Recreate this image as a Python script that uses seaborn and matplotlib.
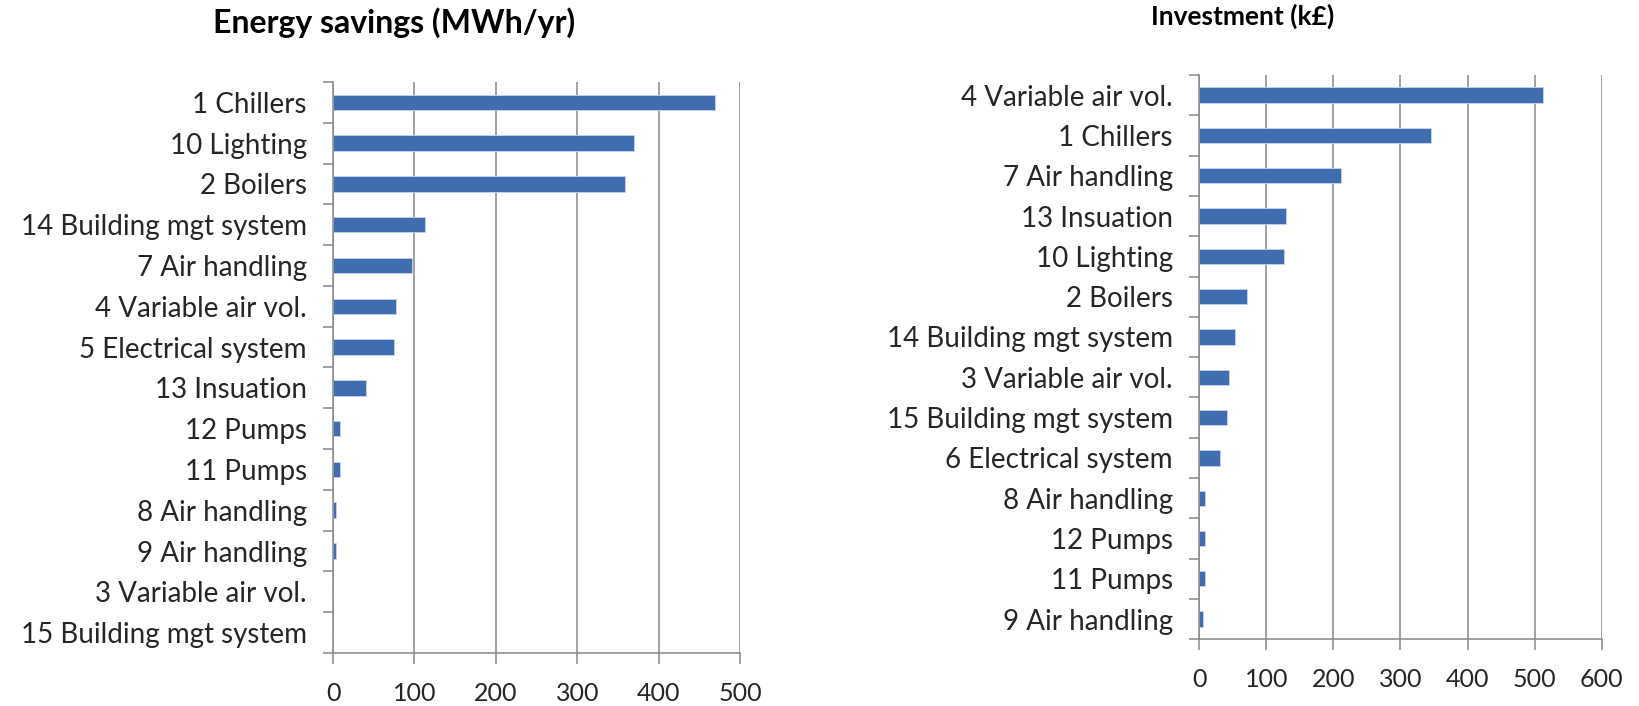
import matplotlib
matplotlib.use("Agg")
import matplotlib.pyplot as plt
import seaborn as sns
import pandas as pd
import numpy as np

# energy savings panel (top to bottom)
savings_labels = ["1 Chillers", "10 Lighting", "2 Boilers", "14 Building mgt system",
                  "7 Air handling", "4 Variable air vol.", "5 Electrical system",
                  "13 Insuation", "12 Pumps", "11 Pumps", "8 Air handling",
                  "9 Air handling", "3 Variable air vol.", "15 Building mgt system"]
savings_values = [469, 370, 359, 113, 97, 77, 75, 40, 9, 9, 4, 4, 0, 0]

# investment panel (top to bottom)
invest_labels = ["4 Variable air vol.", "1 Chillers", "7 Air handling", "13 Insuation",
                 "10 Lighting", "2 Boilers", "14 Building mgt system", "3 Variable air vol.",
                 "15 Building mgt system", "6 Electrical system", "8 Air handling",
                 "12 Pumps", "11 Pumps", "9 Air handling"]
invest_values = [513, 346, 212, 129, 126, 71, 54, 44, 41, 31, 8, 8, 8, 5]

sns.set_style("white")
plt.rcParams["font.family"] = ["Lato", "DejaVu Sans"]

bar_color = "#3F6DB0"
grid_color = "#888888"
text_color = "#262626"

fig = plt.figure(figsize=(16.39, 7.06), dpi=100)
ax1 = fig.add_axes([0.2032, 0.0751, 0.2483, 0.8088])
ax2 = fig.add_axes([0.7317, 0.0945, 0.2455, 0.7993])


def draw_panel(ax, labels, values, xmax):
    df = pd.DataFrame({"item": labels, "value": values})
    sns.barplot(data=df, x="value", y="item", orient="h", color=bar_color,
                width=0.38, saturation=1, ax=ax)
    n = len(labels)
    ax.set_xlim(0, xmax)
    ax.set_ylim(n - 0.5, -0.5)
    ax.set_xticks(np.arange(0, xmax + 1, 100))
    ax.set_xlabel("")
    ax.set_ylabel("")
    ax.xaxis.grid(True, color=grid_color, linewidth=1.1)
    ax.set_axisbelow(True)
    for s in ["top", "right"]:
        ax.spines[s].set_visible(False)
    for s in ["left", "bottom"]:
        ax.spines[s].set_color(grid_color)
        ax.spines[s].set_linewidth(1.1)
    ax.set_yticks(np.arange(-0.5, n, 1.0), minor=True)
    ax.tick_params(axis="y", which="major", length=0, pad=19, labelsize=20,
                   labelcolor=text_color)
    ax.tick_params(axis="y", which="minor", length=7, width=1.1, color=grid_color,
                   direction="out", left=True)
    ax.tick_params(axis="x", which="major", length=8, width=1.1, color=grid_color,
                   direction="out", bottom=True, pad=13, labelsize=18,
                   labelcolor=text_color)
    for b in ax.patches:
        b.set_edgecolor("#c9d6ee")
        b.set_linewidth(0.6)


draw_panel(ax1, savings_labels, savings_values, 500)
draw_panel(ax2, invest_labels, invest_values, 600)

fig.text(394 / 1639, 1 - 23 / 706, "Energy savings (MWh/yr)", ha="center", va="center",
         fontsize=23, fontweight="bold", color="black")
fig.text(1243 / 1639, 1 - 16 / 706, "Investment (k£)", ha="center", va="center",
         fontsize=19, fontweight="bold", color="black")

fig.savefig("out.png", dpi=100)
